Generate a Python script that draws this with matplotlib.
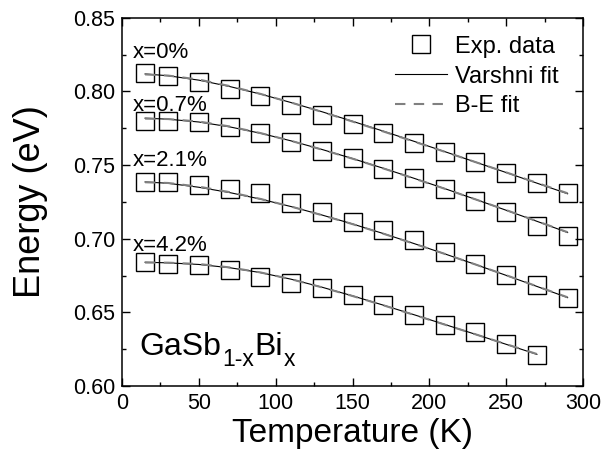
import matplotlib
matplotlib.use("Agg")
import matplotlib.pyplot as plt
from matplotlib.ticker import MultipleLocator

plt.rcParams['font.family'] = ['Liberation Sans', 'DejaVu Sans']

# temperatures (K)
T = [15, 30, 50, 70, 90, 110, 130, 150, 170, 190, 210, 230, 250, 270, 290]
T42 = T[:-1]

E_0 = [0.8124, 0.8104, 0.8065, 0.8014, 0.7970, 0.7905, 0.7839, 0.7780,
       0.7715, 0.7650, 0.7590, 0.7520, 0.7443, 0.7375, 0.7311]
E_07 = [0.7797, 0.7796, 0.7790, 0.7760, 0.7720, 0.7658, 0.7597, 0.7545,
        0.7472, 0.7410, 0.7334, 0.7257, 0.7178, 0.7085, 0.7020]
E_21 = [0.7386, 0.7382, 0.7364, 0.7340, 0.7307, 0.7239, 0.7178, 0.7114,
        0.7058, 0.6990, 0.6910, 0.6831, 0.6752, 0.6684, 0.6594]
E_42 = [0.6842, 0.6827, 0.6820, 0.6786, 0.6741, 0.6702, 0.6668, 0.6616,
        0.6548, 0.6480, 0.6412, 0.6367, 0.6288, 0.6209]

# Varshni fit curves, read at the same temperatures
V_0 = [0.8118, 0.8106, 0.8076, 0.8033, 0.7982, 0.7924, 0.7862, 0.7797,
       0.7730, 0.7661, 0.7591, 0.7520, 0.7449, 0.7377, 0.7305]
V_07 = [0.7818, 0.7811, 0.7792, 0.7759, 0.7716, 0.7664, 0.7606, 0.7544,
        0.7478, 0.7410, 0.7340, 0.7267, 0.7193, 0.7118, 0.7042]
V_21 = [0.7385, 0.7376, 0.7349, 0.7313, 0.7269, 0.7218, 0.7161, 0.7100,
        0.7035, 0.6967, 0.6897, 0.6825, 0.6751, 0.6676, 0.6600]
V_42 = [0.6840, 0.6836, 0.6825, 0.6803, 0.6770, 0.6725, 0.6671, 0.6612,
        0.6549, 0.6484, 0.6418, 0.6351, 0.6283, 0.6215]

# Bose-Einstein fit curves
B_0 = [0.8115, 0.8107, 0.8080, 0.8036, 0.7983, 0.7924, 0.7861, 0.7795,
       0.7728, 0.7659, 0.7590, 0.7520, 0.7450, 0.7379, 0.7308]
B_07 = [0.7815, 0.7812, 0.7795, 0.7762, 0.7717, 0.7664, 0.7605, 0.7543,
        0.7477, 0.7409, 0.7339, 0.7267, 0.7194, 0.7119, 0.7044]
B_21 = [0.7383, 0.7378, 0.7353, 0.7316, 0.7270, 0.7218, 0.7160, 0.7099,
        0.7034, 0.6966, 0.6897, 0.6825, 0.6752, 0.6677, 0.6602]
B_42 = [0.6838, 0.6837, 0.6828, 0.6805, 0.6771, 0.6725, 0.6670, 0.6611,
        0.6548, 0.6483, 0.6417, 0.6351, 0.6284, 0.6217]

series = [(T, E_0, V_0, B_0), (T, E_07, V_07, B_07),
          (T, E_21, V_21, B_21), (T42, E_42, V_42, B_42)]
labels = ["x=0%", "x=0.7%", "x=2.1%", "x=4.2%"]
label_y = [0.8267, 0.7907, 0.7529, 0.6956]

fig = plt.figure(figsize=(6.05, 4.63), dpi=100)
ax = fig.add_axes([0.2017, 0.1663, 0.7619, 0.7955])

for i, (t, e, v, b) in enumerate(series):
    ax.plot(t, e, ls="none", marker="s", ms=12.5, mfc="none", mec="black",
            mew=1.0, label="Exp. data" if i == 0 else None, zorder=2)
    ax.plot(t, v, color="black", lw=0.8,
            label="Varshni fit" if i == 0 else None, zorder=3)
    ax.plot(t, b, color="#808080", lw=1.5, dashes=(5, 4),
            label="B-E fit" if i == 0 else None, zorder=3)

for lab, y in zip(labels, label_y):
    ax.text(7, y, lab, fontsize=16, va="center", ha="left")

# GaSb_{1-x}Bi_x built from pieces so the subscript keeps a plain hyphen
base_y = 0.6209
t0 = ax.text(11.5, base_y, "GaSb", fontsize=23, va="baseline", ha="left")
t1 = ax.annotate("1-x", xy=(1, base_y), xycoords=(t0, "data"),
                 xytext=(0.5, -8), textcoords="offset points",
                 fontsize=16.5, va="baseline", ha="left")
t2 = ax.annotate("Bi", xy=(1, base_y), xycoords=(t1, "data"),
                 xytext=(0.5, 0), textcoords="offset points",
                 fontsize=23, va="baseline", ha="left")
ax.annotate("x", xy=(1, base_y), xycoords=(t2, "data"),
            xytext=(0.5, -8), textcoords="offset points",
            fontsize=16.5, va="baseline", ha="left")

ax.set_xlim(0, 300)
ax.set_ylim(0.60, 0.85)
ax.xaxis.set_major_locator(MultipleLocator(50))
ax.xaxis.set_minor_locator(MultipleLocator(25))
ax.yaxis.set_major_locator(MultipleLocator(0.05))
ax.yaxis.set_minor_locator(MultipleLocator(0.025))
ax.yaxis.set_major_formatter(plt.FormatStrFormatter("%.2f"))
ax.tick_params(which="both", direction="in", top=True, right=True,
               labelsize=15.5, width=1.0)
ax.tick_params(which="major", length=5.5, pad=5)
ax.tick_params(which="minor", length=3)
for s in ax.spines.values():
    s.set_linewidth(1.1)

ax.set_xlabel("Temperature (K)", fontsize=24, labelpad=3)
ax.set_ylabel("Energy (eV)", fontsize=26, labelpad=18)

ax.legend(loc="upper right", bbox_to_anchor=(0.948, 0.951), frameon=False,
          fontsize=17, handlelength=2.2, handletextpad=0.35,
          labelspacing=0.33, borderaxespad=0.0, borderpad=0.0)

fig.savefig("out.png", dpi=100)
